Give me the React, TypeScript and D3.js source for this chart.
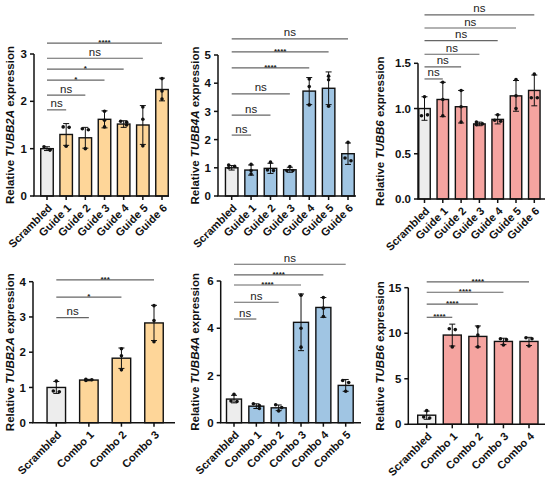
import React from 'react';
import * as d3 from 'd3';

// categories
const guideCats = ['Scrambled', 'Guide 1', 'Guide 2', 'Guide 3', 'Guide 4', 'Guide 5', 'Guide 6'];
const comboCats3 = ['Scrambled', 'Combo 1', 'Combo 2', 'Combo 3'];
const comboCats5 = ['Scrambled', 'Combo 1', 'Combo 2', 'Combo 3', 'Combo 4', 'Combo 5'];
const comboCats4 = ['Scrambled', 'Combo 1', 'Combo 2', 'Combo 3', 'Combo 4'];

// TUBB2A, guides
const tubb2aGuideMean = [1.0, 1.3, 1.23, 1.62, 1.52, 1.5, 2.25];
const tubb2aGuideSd = [0.04, 0.23, 0.22, 0.18, 0.07, 0.41, 0.24];
const tubb2aGuidePts = [[1.04, 0.98, 0.97], [1.46, 1.45, 1.05], [1.42, 1.40, 1.0], [1.79, 1.6, 1.46], [1.58, 1.56, 1.5], [1.88, 1.62, 1.06], [2.48, 2.22, 2.05]];
const tubb2aGuideSig = ['ns', 'ns', '*', '*', 'ns', '****'];

// TUBB4A, guides
const tubb4aGuideMean = [1.0, 0.92, 0.98, 0.93, 3.72, 3.82, 1.5];
const tubb4aGuideSd = [0.08, 0.18, 0.18, 0.09, 0.48, 0.58, 0.38];
const tubb4aGuidePts = [[1.1, 1.05, 1.0], [1.12, 0.9, 0.78], [1.2, 0.92, 0.9], [1.04, 0.9, 0.9], [4.15, 3.88, 3.23], [4.25, 4.12, 3.18], [1.9, 1.35, 1.25]];
const tubb4aGuideSig = ['ns', 'ns', 'ns', '****', '****', 'ns'];

// TUBB6, guides
const tubb6GuideMean = [1.0, 1.1, 1.02, 0.83, 0.88, 1.14, 1.2];
const tubb6GuideSd = [0.13, 0.19, 0.18, 0.02, 0.05, 0.17, 0.17];
const tubb6GuidePts = [[1.13, 0.92, 0.93], [1.29, 1.1, 0.92], [1.2, 1.02, 0.85], [0.85, 0.83, 0.82], [0.93, 0.87, 0.86], [1.32, 1.14, 1.0], [1.38, 1.12, 1.12]];
const tubb6GuideSig = ['ns', 'ns', 'ns', 'ns', 'ns', 'ns'];

// TUBB2A, combos
const tubb2aComboMean = [1.0, 1.21, 1.83, 2.83];
const tubb2aComboSd = [0.17, 0.02, 0.29, 0.5];
const tubb2aComboPts = [[1.18, 0.9, 0.88], [1.23, 1.22, 1.2], [2.1, 1.9, 1.5], [3.32, 2.9, 2.3]];
const tubb2aComboSig = ['ns', '*', '***'];

// TUBB4A, combos
const tubb4aComboMean = [1.0, 0.7, 0.63, 4.25, 4.88, 1.58];
const tubb4aComboSd = [0.16, 0.1, 0.12, 1.2, 0.42, 0.25];
const tubb4aComboPts = [[1.2, 0.92, 0.9], [0.8, 0.73, 0.6], [0.76, 0.64, 0.5], [5.4, 4.0, 3.2], [5.3, 4.85, 4.5], [1.79, 1.7, 1.33]];
const tubb4aComboSig = ['ns', 'ns', '****', '****', 'ns'];

// TUBB6, combos
const tubb6ComboMean = [1.0, 9.8, 9.65, 9.1, 9.1];
const tubb6ComboSd = [0.45, 1.2, 1.15, 0.35, 0.45];
const tubb6ComboPts = [[1.5, 0.8, 0.7], [10.5, 10.4, 8.5], [10.7, 9.8, 8.5], [9.4, 9.3, 8.7], [9.5, 9.4, 8.6]];
const tubb6ComboSig = ['****', '****', '****', '****'];

const gray = '#ededed';
const orange = '#fed699';
const blue = '#a0c5e3';
const red = '#f5a4a0';
const font = '"Liberation Sans", Arial, sans-serif';

type PanelProps = {
  gene: string;
  cats: string[];
  mean: number[];
  sd: number[];
  pts: number[][];
  sig: string[];
  sigY: number[]; // bracket heights in data units
  color: string;
  yMax: number;
  ticks: number[];
  tickFmt?: (v: number) => string;
  axisX: number;
  firstX: number;
  lastX: number;
  axisEnd: number;
  barW: number;
  yTop: number;
  yBot: number;
  labelX: number;
};

function Panel(p: PanelProps) {
  const x = d3.scalePoint<string>().domain(p.cats).range([p.firstX, p.lastX]);
  const y = d3.scaleLinear().domain([0, p.yMax]).range([p.yBot, p.yTop]);
  const fmt = p.tickFmt || ((v: number) => String(v));
  const midY = (p.yTop + p.yBot) / 2;
  const x0 = x(p.cats[0])!;

  return (
    <g fontFamily={font}>
      {/* bars */}
      {p.cats.map((c, i) => (
        <rect key={'b' + c} x={x(c)! - p.barW / 2} y={y(p.mean[i])} width={p.barW}
          height={p.yBot - y(p.mean[i])} fill={i === 0 ? gray : p.color}
          stroke="#111" strokeWidth={1.4} />
      ))}
      {/* error bars */}
      {p.cats.map((c, i) => {
        const cx = x(c)!;
        const hi = y(p.mean[i] + p.sd[i]);
        const lo = y(Math.max(0, p.mean[i] - p.sd[i]));
        return (
          <g key={'e' + c} stroke="#111" strokeWidth={1}>
            <line x1={cx} x2={cx} y1={hi} y2={lo} />
            <line x1={cx - 3} x2={cx + 3} y1={hi} y2={hi} />
            <line x1={cx - 3} x2={cx + 3} y1={lo} y2={lo} />
          </g>
        );
      })}
      {/* points */}
      {p.cats.map((c, i) => {
        const cx = x(c)!;
        const placed: { px: number; py: number }[] = [];
        p.pts[i].forEach(v => {
          const py = y(v);
          const near = placed.filter(q => Math.abs(q.py - py) < 3.2);
          const px = near.length === 0 ? cx : cx + (near.length % 2 === 1 ? 3 : -3);
          if (near.length === 1 && near[0].px === cx) {
            near[0].px = cx - 3;
          }
          placed.push({ px, py });
        });
        return placed.map((q, j) => (
          <circle key={'p' + c + j} cx={q.px} cy={q.py} r={1.8} fill="#111" />
        ));
      })}
      {/* y axis */}
      <line x1={p.axisX} x2={p.axisX} y1={p.yTop} y2={p.yBot} stroke="#111" strokeWidth={1.5} />
      {p.ticks.map(t => (
        <g key={'t' + t}>
          <line x1={p.axisX - 4} x2={p.axisX} y1={y(t)} y2={y(t)} stroke="#111" strokeWidth={1.5} />
          <text x={p.axisX - 7} y={y(t)} dy="0.36em" textAnchor="end" fontSize={11.5} fontWeight="bold" fill="#111">{fmt(t)}</text>
        </g>
      ))}
      {/* x axis */}
      <line x1={p.axisX - 0.75} x2={p.axisEnd} y1={p.yBot} y2={p.yBot} stroke="#111" strokeWidth={1.5} />
      {p.cats.map(c => (
        <g key={'x' + c}>
          <line x1={x(c)} x2={x(c)} y1={p.yBot} y2={p.yBot + 4} stroke="#111" strokeWidth={1.5} />
          <text transform={`translate(${x(c)! + 3},${p.yBot + 10}) rotate(-45)`} textAnchor="end" dy="0.35em"
            fontSize={11} fontWeight="bold" fill="#111">{c}</text>
        </g>
      ))}
      {/* y label */}
      <text transform={`translate(${p.labelX},${midY}) rotate(-90)`} textAnchor="middle" fontSize={11.5} fontWeight="bold" fill="#111">
        Relative <tspan fontStyle="italic">{p.gene}</tspan> expression
      </text>
      {/* significance brackets */}
      {p.sig.map((s, i) => {
        const x1 = x(p.cats[i + 1])!;
        const ly = y(p.sigY[i]);
        const stars = s !== 'ns';
        return (
          <g key={'s' + i}>
            <line x1={x0} x2={x1} y1={ly} y2={ly} stroke="#666" strokeWidth={1.2} />
            <text x={(x0 + x1) / 2} y={stars ? ly + 1.8 : ly - 2.5} textAnchor="middle"
              fontSize={stars ? 8 : 11.5} fontWeight={stars ? 'bold' : 'normal'} fill="#222">{s}</text>
          </g>
        );
      })}
    </g>
  );
}

export default function App() {
  const f1 = (v: number) => v.toFixed(1);
  return (
    <svg width={550} height={480} style={{ position: 'absolute', left: 0, top: 0, background: '#fff' }}>
      <Panel gene="TUBB2A" cats={guideCats} mean={tubb2aGuideMean} sd={tubb2aGuideSd} pts={tubb2aGuidePts}
        sig={tubb2aGuideSig} sigY={[1.82, 2.13, 2.45, 2.68, 2.91, 3.23]} color={orange}
        yMax={3} ticks={[0, 1, 2, 3]} axisX={34} firstX={47} lastX={162} axisEnd={169} barW={12.5}
        yTop={54} yBot={196} labelX={14} />
      <Panel gene="TUBB4A" cats={guideCats} mean={tubb4aGuideMean} sd={tubb4aGuideSd} pts={tubb4aGuidePts}
        sig={tubb4aGuideSig} sigY={[2.16, 2.87, 3.62, 4.54, 5.11, 5.57]} color={blue}
        yMax={5} ticks={[0, 1, 2, 3, 4, 5]} axisX={218} firstX={231.7} lastX={348} axisEnd={356} barW={12.5}
        yTop={55} yBot={196} labelX={199} />
      <Panel gene="TUBB6" cats={guideCats} mean={tubb6GuideMean} sd={tubb6GuideSd} pts={tubb6GuidePts}
        sig={tubb6GuideSig} sigY={[1.327, 1.46, 1.6, 1.75, 1.89, 2.035]} color={red}
        yMax={1.5} ticks={[0, 0.5, 1, 1.5]} tickFmt={f1} axisX={418} firstX={424.5} lastX={534.3} axisEnd={545} barW={11.5}
        yTop={63.3} yBot={199} labelX={384} />
      <Panel gene="TUBB2A" cats={comboCats3} mean={tubb2aComboMean} sd={tubb2aComboSd} pts={tubb2aComboPts}
        sig={tubb2aComboSig} sigY={[2.98, 3.56, 4.05]} color={orange}
        yMax={4} ticks={[0, 1, 2, 3, 4]} axisX={33} firstX={56.3} lastX={154} axisEnd={175} barW={18.5}
        yTop={281.7} yBot={422.7} labelX={14} />
      <Panel gene="TUBB4A" cats={comboCats5} mean={tubb4aComboMean} sd={tubb4aComboSd} pts={tubb4aComboPts}
        sig={tubb4aComboSig} sigY={[4.39, 5.1, 5.83, 6.26, 6.71]} color={blue}
        yMax={6} ticks={[0, 2, 4, 6]} axisX={220.7} firstX={234} lastX={345.7} axisEnd={361} barW={15}
        yTop={281} yBot={422.7} labelX={199} />
      <Panel gene="TUBB6" cats={comboCats4} mean={tubb6ComboMean} sd={tubb6ComboSd} pts={tubb6ComboPts}
        sig={tubb6ComboSig} sigY={[11.75, 13.2, 14.5, 15.65]} color={red}
        yMax={15} ticks={[0, 5, 10, 15]} axisX={408.3} firstX={426.7} lastX={529} axisEnd={545} barW={18}
        yTop={287.7} yBot={424.3} labelX={384} />
    </svg>
  );
}
